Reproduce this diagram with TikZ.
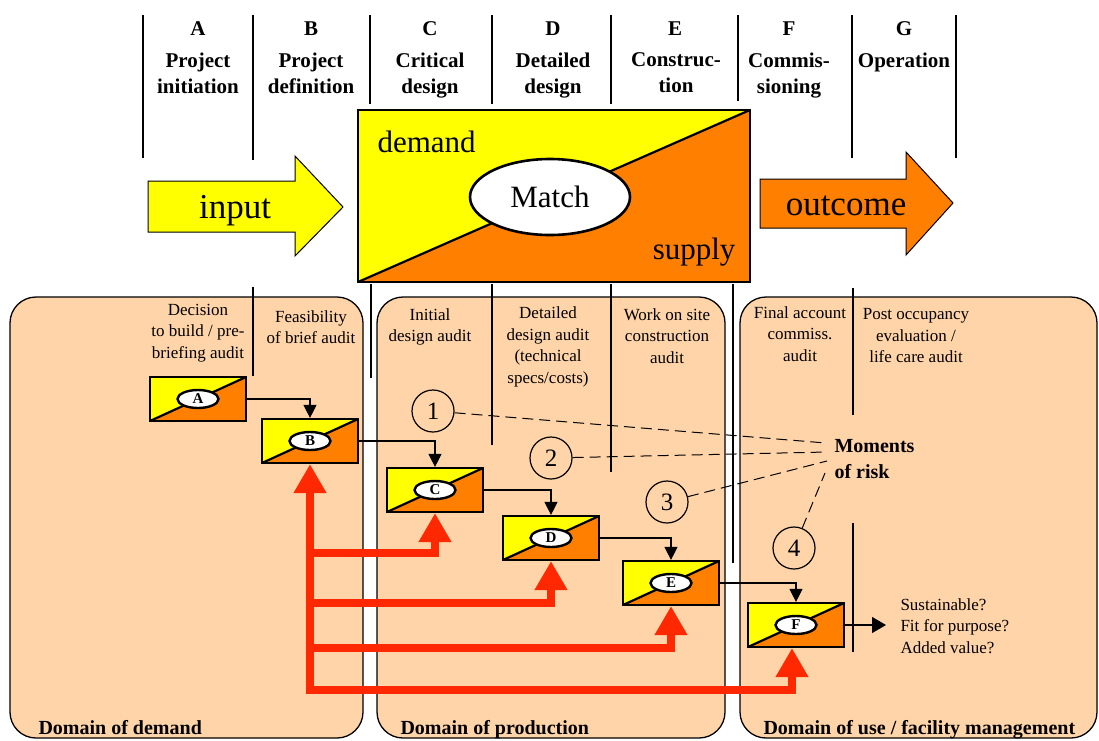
\documentclass[tikz,border=0pt]{standalone}
\usepackage{fontspec}
\setmainfont{Liberation Serif}
\usetikzlibrary{arrows.meta,calc,shapes.geometric}

\definecolor{yel}{RGB}{255,255,0}
\definecolor{org}{RGB}{255,128,0}
\definecolor{peach}{RGB}{255,212,168}
\definecolor{redarr}{RGB}{255,40,0}

\tikzset{
  splitbox/.style={rectangle, draw, line width=2.2pt, inner sep=0pt,
    path picture={
      \fill[yel] (path picture bounding box.south west) |- (path picture bounding box.north east) -- cycle;
      \fill[org] (path picture bounding box.south west) -| (path picture bounding box.north east) -- cycle;
      \draw[line width=2.2pt] (path picture bounding box.south west) -- (path picture bounding box.north east);
    }},
  auditbox/.style={splitbox, minimum width=96pt, minimum height=44pt},
  tagoval/.style={ellipse, draw, fill=white, line width=2.4pt, inner sep=0pt,
    minimum width=41pt, minimum height=18pt, font=\fontsize{15}{15}\selectfont\bfseries},
  phasehead/.style={align=center, font=\fontsize{21}{26}\selectfont\bfseries},
  audittext/.style={align=center, font=\fontsize{17}{21.5}\selectfont},
  domainbox/.style={draw, fill=peach, line width=1.3pt, rounded corners=26pt},
  domainlabel/.style={anchor=base west, font=\fontsize{20}{24}\selectfont\bfseries},
  divider/.style={line width=2.4pt},
  thin divider/.style={line width=2pt},
  conn/.style={line width=1.2pt, -{Triangle[length=13pt,width=13pt]}},
  redarrow/.style={draw=redarr, line width=8pt, -{Triangle[length=29pt,width=31pt]}, redarr},
  riskno/.style={circle, draw, line width=1.2pt, minimum size=42pt, inner sep=0pt,
    font=\fontsize{25}{25}\selectfont},
  riskline/.style={line width=1pt, dash pattern=on 11pt off 6pt},
  bigword/.style={font=\fontsize{35}{40}\selectfont},
  boxword/.style={font=\fontsize{31}{36}\selectfont},
}

\begin{document}
\begin{tikzpicture}[x=1pt, y=-1pt]
\useasboundingbox (0,0) rectangle (1099,740);
\fill[white] (0,0) rectangle (1099,740);

% ---- phase headings ----
\foreach \x/\a/\b in {143/15/158, 253/15/160, 370/15/104, 492/15/104,
                      611/15/104, 738/15/101, 852/15/158, 956/15/158}
  \draw[divider] (\x,\a) -- (\x,\b);

\node[phasehead] (hA) at (198,29) {A};
\node[phasehead] (hB) at (311,29) {B};
\node[phasehead] (hC) at (430,29) {C};
\node[phasehead] (hD) at (553,29) {D};
\node[phasehead] (hE) at (675,29) {E};
\node[phasehead] (hF) at (789,29) {F};
\node[phasehead] (hG) at (904,29) {G};
\node[phasehead, anchor=north] (tA) at (198,49) {Project\\initiation};
\node[phasehead, anchor=north] (tB) at (311,49) {Project\\definition};
\node[phasehead, anchor=north] (tC) at (430,49) {Critical\\design};
\node[phasehead, anchor=north] (tD) at (553,49) {Detailed\\design};
\node[phasehead, anchor=north] (tE) at (676,49) {Construc-\\tion};
\node[phasehead, anchor=north] (tF) at (789,49) {Commis-\\sioning};
\node[phasehead, anchor=north] (tG) at (904,49) {Operation};

% ---- short ticks between the match box and the domains ----
\draw[divider] (253,287) -- (253,297);
\draw[divider] (371,284) -- (371,297);
\draw[divider] (492,284) -- (492,297);
\draw[divider] (611,284) -- (611,297);
\draw[divider] (733,284) -- (733,297);
\draw[divider] (853,288) -- (853,297);

% ---- domains ----
\draw[domainbox] (10,297) rectangle (363,738);
\draw[domainbox] (377,297) rectangle (725,738);
\draw[domainbox] (740,297) rectangle (1097,738);
\node[domainlabel] (dd) at (35,734) {Domain of demand};
\node[domainlabel] (dp) at (397,734) {Domain of production};
\node[domainlabel] (du) at (760,734) {Domain of use / facility management};

% dividers inside and between the domains
\draw[divider] (253,297) -- (253,376);
\draw[divider] (371,297) -- (371,378);
\draw[divider] (492,297) -- (492,445);
\draw[divider] (611,297) -- (611,472);
\draw[divider] (733,297) -- (733,563);
\draw[divider] (853,297) -- (853,415);
\draw[thin divider] (853,523) -- (853,652);

% ---- input / match / outcome ----
\fill[yel, draw=black, line width=1pt]
  (148,181) -- (295,181) -- (295,156) -- (343,207) -- (295,256) -- (295,232) -- (148,232) -- cycle;
\node[bigword] (input) at (235,211) {input};

\node[splitbox, minimum width=392pt, minimum height=172pt, line width=2.6pt] (mbox) at (554,196) {};
\node[ellipse, draw, fill=white, line width=2.6pt, minimum width=160pt, minimum height=76pt,
      inner sep=0pt, boxword] (match) at (550,197) {Match};
\node[boxword, anchor=base west] (dem) at (374,152) {demand};
\node[boxword, anchor=base east] (sup) at (739,259) {supply};

\fill[org, draw=black, line width=1pt]
  (760,179) -- (906,179) -- (906,152) -- (953,203) -- (906,255) -- (906,228) -- (760,228) -- cycle;
\node[bigword] (outcome) at (846,206) {outcome};

% ---- audit descriptions ----
\node[audittext] (aA) at (198,333) {Decision\\to build / pre-\\briefing audit};
\node[audittext] (aB) at (311,327) {Feasibility\\of brief audit};
\node[audittext] (aC) at (430,327) {Initial\\design audit};
\node[audittext] (aD) at (548,347) {Detailed\\design audit\\(technical\\specs/costs)};
\node[audittext] (aE) at (667,336) {Work on site\\construction\\audit};
\node[audittext] (aF) at (800,334) {Final account\\commiss.\\audit};
\node[audittext] (aG) at (916,336) {Post occupancy\\evaluation /\\life care audit};

% ---- audit boxes ----
\node[auditbox] (A) at (198,399) {};
\node[auditbox] (B) at (310,441) {};
\node[auditbox] (C) at (435,490) {};
\node[auditbox] (D) at (551,538) {};
\node[auditbox] (E) at (671,583) {};
\node[auditbox] (F) at (796,625) {};
\foreach \n in {A,B,C,D,E,F}
  \node[tagoval] (tag\n) at (\n) {\n};

\draw[conn] (A.east) -| (B.north);
\draw[conn] (B.east) -| (C.north);
\draw[conn] (C.east) -| (D.north);
\draw[conn] (D.east) -| (E.north);
\draw[conn] (E.east) -| (F.north);
\coordinate (fout) at (886,625);
\draw[line width=1.2pt, -{Triangle[length=14pt,width=16pt]}] (F.east) -- (fout);
\node[audittext, anchor=west, align=left] (qs) at (897,626) {Sustainable?\\Fit for purpose?\\Added value?};

% ---- feedback from the domain of demand ----
\coordinate (trunk) at (310,694);
\coordinate (bC) at (310,553);
\coordinate (bD) at (310,603);
\coordinate (bE) at (310,648);
\coordinate (bF) at (306,690);
\draw[redarrow] (trunk) -- (B.south);
\draw[redarrow] (bC) -| (C.south);
\draw[redarrow] (bD) -| (D.south);
\draw[redarrow] (bE) -| (E.south);
\draw[redarrow] (bF) -| ([xshift=-4pt]F.south);

% ---- moments of risk ----
\node[riskno] (r1) at (433,411) {1};
\node[riskno] (r2) at (551,458) {2};
\node[riskno] (r3) at (667,502) {3};
\node[riskno] (r4) at (794,548) {4};
\node[anchor=west, align=left, font=\fontsize{20}{26}\selectfont\bfseries] (risk) at (831,459) {Moments\\of risk};
\coordinate (m1) at (826,443);
\coordinate (m2) at (827,452);
\coordinate (m3) at (827,461);
\coordinate (m4) at (825,473);
\draw[riskline] (r1) -- (m1);
\draw[riskline] (r2) -- (m2);
\draw[riskline] (r3) -- (m3);
\draw[riskline] (r4) -- (m4);
\end{tikzpicture}
\end{document}
